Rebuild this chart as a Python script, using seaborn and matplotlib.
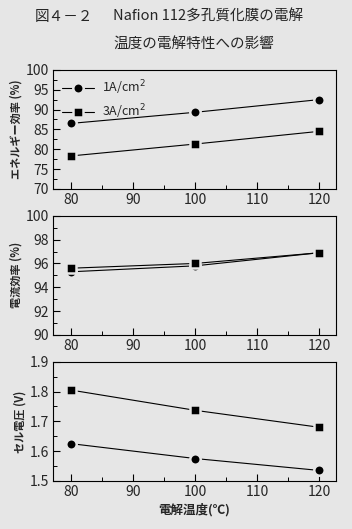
import matplotlib.pyplot as plt
import numpy as np
import pandas as pd
import seaborn as sns
from matplotlib.ticker import MultipleLocator, FormatStrFormatter
from matplotlib.lines import Line2D

# data
temps = [80, 100, 120]
series = ["1A/cm$^2$", "3A/cm$^2$"]
energy_1a = [86.5, 89.3, 92.5]
energy_3a = [78.3, 81.3, 84.5]
current_1a = [95.3, 95.8, 96.9]
current_3a = [95.6, 96.0, 96.9]
voltage_1a = [1.625, 1.575, 1.535]
voltage_3a = [1.805, 1.737, 1.680]

bg = "#e6e6e6"

sns.set_theme(style="ticks")
plt.rcParams["font.family"] = ["Noto Sans CJK JP", "DejaVu Sans"]
plt.rcParams["mathtext.fontset"] = "dejavusans"


def makedf(a, b):
    return pd.DataFrame(
        {
            "temp": temps * 2,
            "val": a + b,
            "cur": [series[0]] * 3 + [series[1]] * 3,
        }
    )


fig = plt.figure(figsize=(3.52, 5.29), dpi=100, facecolor=bg)

panels = [
    (makedf(energy_1a, energy_3a), 0.643, (70, 100), 5, 2.5, "エネルギー効率 (%)", "%d"),
    (makedf(current_1a, current_3a), 0.367, (90, 100), 2, 1, "電流効率 (%)", "%d"),
    (makedf(voltage_1a, voltage_3a), 0.091, (1.5, 1.9), 0.1, 0.05, "セル電圧 (V)", "%.1f"),
]

axes = []
for df, bottom, ylim, major, minor, ylab, fmt in panels:
    ax = fig.add_axes([0.151, bottom, 0.804, 0.225], facecolor=bg)
    sns.lineplot(
        data=df, x="temp", y="val", hue="cur", style="cur",
        markers={series[0]: "o", series[1]: "s"}, dashes=False,
        palette={series[0]: "black", series[1]: "black"},
        linewidth=0.8, markersize=7.5, markeredgecolor=bg,
        markeredgewidth=1.8, ax=ax, legend=False,
    )
    ax.set_xlim(77.1, 122.7)
    ax.set_ylim(*ylim)
    ax.xaxis.set_major_locator(MultipleLocator(10))
    ax.xaxis.set_minor_locator(MultipleLocator(5))
    ax.yaxis.set_major_locator(MultipleLocator(major))
    ax.yaxis.set_minor_locator(MultipleLocator(minor))
    ax.yaxis.set_major_formatter(FormatStrFormatter(fmt))
    ax.tick_params(which="both", direction="in", color="black",
                   labelsize=10, pad=3)
    ax.tick_params(which="major", length=5, width=0.8)
    ax.tick_params(which="minor", length=3, width=0.7)
    for s in ax.spines.values():
        s.set_color("black")
        s.set_linewidth(0.8)
    ax.set_xlabel("")
    ax.set_ylabel(ylab, fontsize=8, fontweight="bold", labelpad=2)
    axes.append(ax)

axes[2].set_xlabel("電解温度(℃)", fontsize=9, fontweight="bold", labelpad=3)

handles = [
    Line2D([], [], color="black", lw=0.8, marker="o", markersize=7.5,
           markeredgecolor=bg, markeredgewidth=1.8),
    Line2D([], [], color="black", lw=0.8, marker="s", markersize=7.5,
           markeredgecolor=bg, markeredgewidth=1.8),
]
axes[0].legend(handles, series, loc="upper left", frameon=False,
               fontsize=9, handlelength=2.6, borderaxespad=0.3,
               labelspacing=0.4, handletextpad=0.6)

fig.text(35 / 352, 1 - 17 / 529, "図４－２", fontsize=10.5, va="center")
fig.text(113 / 352, 1 - 17 / 529, "Nafion 112多孔質化膜の電解",
         fontsize=10.5, va="center")
fig.text(113 / 352, 1 - 44 / 529, "温度の電解特性への影響",
         fontsize=10.5, va="center")

fig.savefig("out.png", dpi=100, facecolor=bg)
